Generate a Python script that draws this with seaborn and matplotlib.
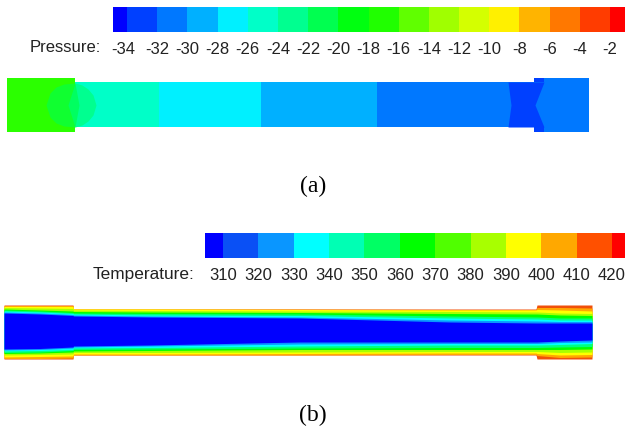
import numpy as np
import pandas as pd
import seaborn as sns
import matplotlib
matplotlib.use('Agg')
import matplotlib.pyplot as plt
from matplotlib.colors import ListedColormap

sns.set_theme(style='white')
plt.rcParams['font.family'] = ['Liberation Sans', 'DejaVu Sans']

W, H = 625, 429

# colour bars
p_labels = [-34,-32,-30,-28,-26,-24,-22,-20,-18,-16,-14,-12,-10,-8,-6,-4,-2]
p_cells = [-35,-33,-31,-29,-27,-25,-23,-21,-19,-17,-15,-13,-11,-9,-7,-5,-3,-1]
p_colors = ['#0000ff','#0040ff','#0078ff','#00b0ff','#00f0ff','#00ffc8','#00ff90','#00ff50',
            '#00ff10','#20ff00','#60ff00','#a0ff00','#d4ff00','#fff000','#ffb400','#ff7800','#ff3c00','#ff0000']
t_labels = [310,320,330,340,350,360,370,380,390,400,410,420]
t_cells = [305,315,325,335,345,355,365,375,385,395,405,415,425]
t_colors = ['#0000ff','#0a50f5','#0a96ff','#00ffff','#00ffb4','#00ff64','#00ff00','#50ff00',
            '#a8ff00','#ffff00','#ffa800','#ff5000','#ff0000']

# pressure field, pipe sections along the axis
p_body_edges = [75,159,261,377,508]
p_body_colors = ['#00ffc8','#00f0ff','#00b0ff','#0078ff']
p_blob_x = [46,50,56,64,75]
p_blob_half = [0,12,18,21,22]
p_blob2_x = [75,82,88,93,96]
p_blob2_half = [22,20,16,10,0]
p_lens_y = [83,105,127]
p_lens_left = [75,68,75]
p_lens_right = [75,79,75]
p_x_y = [82,105,127]
p_x_left = [508,511,508]
p_x_right = [544,535,544]

# temperature field, contour edges at stations along the pipe
st = [4,40,73,73.5,150,300,450,536,537,560,592]
wall_top = [305,305,305,309,309,309,309,309,305,305,305]
wall_bot = [359,359,359,355,355,355,355,355,359,359,359]
band_colors = ['#f0500a','#ffa800','#ffff00','#a8ff00','#00ff00','#00ff80','#00ffff','#0a96ff','#0000ff']
tops = [
    wall_top,
    [305.5,305.5,305.5,309,309,309,309.5,309.5,307.5,307.5,308],
    [306.5,306.5,306.5,309,309,309.5,310,310,309.5,310,311],
    [307.5,308,308.5,310,310.5,311,311.5,312,312,313,313.5],
    [309,310,311,311.5,312,312.5,313.5,314,314,315,315.5],
    [310,311,312.5,313,313.5,314,316,317,317,318,318],
    [311,312,313.5,314,315,315.5,318,319,319,320,320],
    [312,313,314.5,315,316,317,320,321,321,321.5,321.5],
    [313,314,315.5,316,317,318,322,323,323,323,323],
]
bots = [
    wall_bot,
    [358.5,358.5,358,355,355,355,354.5,354.5,355.5,357.5,357],
    [357,356.5,356,354,354,353.5,353,353,353.5,355,354.5],
    [355,354.5,354,352.5,352.5,352,351.5,351.5,351.5,352.5,352],
    [353.5,353,352,351,350.5,349.5,349.5,349.5,349.5,349.5,349],
    [352.5,352,350.5,349.5,349,348,347.5,347.5,347.5,347,346.5],
    [351,350.5,349.5,348,347.5,346,345,345,345,344.5,343.5],
    [350,349.5,348,347,346,344,343.5,343.5,343.5,342.5,342],
    [349,348.5,347,346,345,342,342,342,342,341,340],
]

fig = plt.figure(figsize=(W/100, H/100), dpi=100)
bg = fig.add_axes([0,0,1,1])
bg.set_xlim(0,W)
bg.set_ylim(H,0)
bg.axis('off')

def colorbar(x0, x1, y0, y1, cells, colors, labels, left, right, first_shift=0):
    ax = fig.add_axes([x0/W, 1-y1/H, (x1-x0)/W, (y1-y0)/H])
    df = pd.DataFrame([cells])
    sns.heatmap(df, ax=ax, cmap=ListedColormap(colors), vmin=min(cells)-(cells[1]-cells[0])/2,
                vmax=max(cells)+(cells[1]-cells[0])/2, cbar=False,
                xticklabels=False, yticklabels=False)
    ticks = np.arange(1.0, len(labels)+1)
    ticks[0] -= first_shift
    ax.set_xticks(ticks)
    ax.set_xticklabels(labels, rotation=0, fontsize=12, color='#222222')
    ax.set_xlim(left, right)
    ax.set_yticks([])
    ax.tick_params(axis='x', length=0, pad=7)
    ax.set_xlabel('')
    ax.set_ylabel('')
    return ax

ax_p = colorbar(113,625,7,32,p_cells,p_colors,p_labels,1-14/30.2,17+15/30.2,first_shift=0.13)
ax_t = colorbar(205,625,233,258,t_cells,t_colors,t_labels,1-18/35.4,12+13/35.4)

# pressure contours
bg.fill_between([7,75],78,132,color='#2bff00',lw=0)
for i,c in enumerate(p_body_colors):
    bg.fill_between(p_body_edges[i:i+2],82,127,color=c,lw=0)
bg.fill_between([508,589],82,127,color='#0078ff',lw=0)
bg.fill_between([534,589],78,132,color='#0078ff',lw=0)
bx = np.array(p_blob_x)
bh = np.array(p_blob_half)
bg.fill_between(bx,105-bh,105+bh,color='#10ff30',lw=0)
bx2 = np.array(p_blob2_x)
bh2 = np.array(p_blob2_half)
bg.fill_between(bx2,105-bh2,105+bh2,color='#00ff90',lw=0)
bg.fill_betweenx(p_lens_y,p_lens_left,p_lens_right,color='#00ff60',lw=0)
bg.fill_betweenx(p_x_y,p_x_left,p_x_right,color='#0040ff',lw=0)
bg.fill_between([534,544],78,82,color='#0040ff',lw=0)
bg.fill_between([534,544],127,132,color='#0040ff',lw=0)

# temperature contours, outermost first
for c,t,b in zip(band_colors,tops,bots):
    bg.fill_between(st,t,b,color=c,lw=0)

bg.text(101,48,'Pressure:',ha='right',va='center',fontsize=12,color='#222222')
bg.text(194,275,'Temperature:',ha='right',va='center',fontsize=12.4,color='#222222')
bg.text(313,186,'(a)',ha='center',va='center',fontsize=17,family='Liberation Serif',color='black')
bg.text(313,415,'(b)',ha='center',va='center',fontsize=17,family='Liberation Serif',color='black')

fig.savefig('out.png',dpi=100)
